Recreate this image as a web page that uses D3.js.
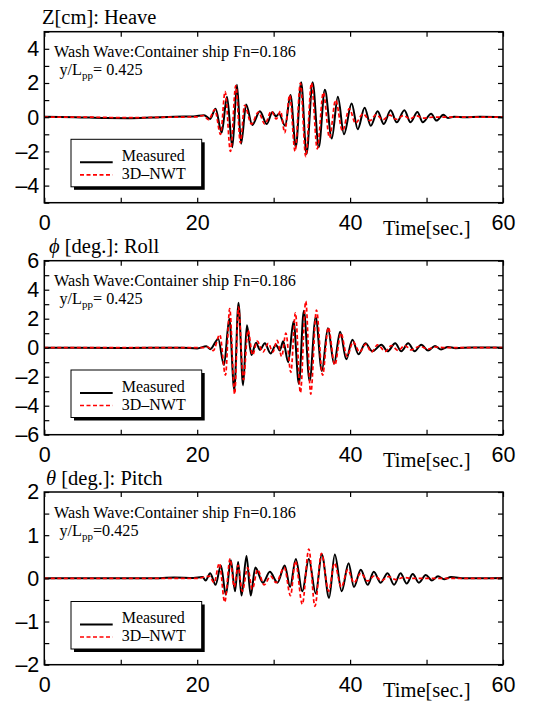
<!DOCTYPE html>
<html>
<head>
<meta charset="utf-8">
<script src="https://cdn.jsdelivr.net/npm/d3@7"></script>
<style>
  body { margin: 0; background: #fff; }
  svg { display: block; }
</style>
</head>
<body>
<script>
// ---- time axis ----
const timeTicks = [0, 10, 20, 30, 40, 50, 60];
const timeLabels = [0, 20, 40, 60];

// ---- heave Z [cm]: [time s, value] at turning points ----
const heaveMeasured = [
  [0,0.02],[4,0.0],[8,-0.05],[11,-0.06],[14,-0.02],[17,0.03],[19.5,0.04],
  [20.9,0.12],[21.7,-0.1],[22.4,0.5],[23.2,-0.9],[23.9,1.2],[24.6,-1.75],
  [25.2,1.9],[25.75,-1.55],[26.4,0.75],[27.2,-0.45],[28.2,0.35],[29.1,-0.4],
  [29.85,0.3],[30.3,0.05],[30.7,0.2],[31.5,-0.5],[32.2,1.3],[32.9,-1.75],
  [33.6,2.05],[34.3,-2.15],[35.1,2.05],[35.9,-1.75],[36.7,1.6],[37.6,-1.25],
  [38.4,1.2],[39.2,-1.0],[40.2,0.8],[41.0,-0.7],[41.9,0.55],[42.7,-0.5],
  [43.6,0.35],[44.4,-0.4],[45.3,0.4],[46.1,-0.3],[47.1,0.4],[47.9,-0.3],
  [48.8,0.3],[49.5,-0.3],[50.6,0.2],[51.3,-0.2],[52.2,0.15],[52.8,-0.05],
  [53.6,0.03],[55,0.0],[57,0.02],[60,0.0]
];
const heaveNWT = [
  [0,0],[6,0.0],[11,-0.03],[16,0.0],[20,0.02],[20.8,0.1],[21.5,-0.15],
  [22.3,0.45],[23.05,-1.0],[23.65,1.5],[24.35,-2.0],[25.05,1.85],[25.65,-1.5],
  [26.2,0.7],[27.1,-0.4],[28.0,0.3],[28.85,-0.4],[29.7,0.35],[30.35,-0.1],
  [30.9,0.35],[31.45,-0.9],[32.1,1.3],[32.8,-2.0],[33.5,2.0],[34.2,-2.3],
  [34.95,2.0],[35.7,-1.85],[36.5,1.45],[37.3,-1.2],[38.1,1.0],[39.0,-0.8],
  [39.9,0.5],[40.7,-0.35],[41.7,0.2],[42.6,-0.2],[43.4,0.15],[44.3,-0.15],
  [45.2,0.12],[46.0,-0.12],[47.0,0.1],[47.8,-0.1],[48.7,0.08],[49.5,-0.05],
  [51,0.0],[60,0.0]
];

// ---- roll phi [deg.] ----
const rollMeasured = [
  [0,0],[10,-0.02],[18,0],[20,-0.05],[21.2,0.1],[21.7,-0.1],[22.75,0.6],
  [23.5,-1.2],[24.2,2.0],[24.85,-2.9],[25.4,3.1],[26.0,-2.6],[26.5,1.55],
  [27.1,-0.5],[27.7,0.35],[28.2,-0.15],[28.85,0.3],[29.6,-0.4],[30.3,0.2],
  [30.8,-0.2],[31.25,0.45],[31.9,-1.0],[32.6,1.8],[33.3,-2.5],[33.95,2.55],
  [34.7,-2.3],[35.5,2.1],[36.3,-1.6],[37.1,1.35],[37.9,-1.1],[38.7,1.1],
  [39.5,-0.8],[40.3,0.55],[41.1,-0.45],[42.0,0.3],[42.9,-0.25],[44.1,0.2],
  [44.9,-0.25],[45.9,0.3],[46.7,-0.25],[47.6,0.3],[48.45,-0.25],[49.3,0.2],
  [50.2,-0.2],[51.1,0.12],[51.9,-0.12],[52.8,0.05],[53.8,-0.03],[56,0.02],[60,0]
];
const rollNWT = [
  [0,0],[21,0],[21.35,0.05],[22.1,-0.2],[22.95,0.9],[23.7,-1.9],[24.25,2.7],
  [24.9,-3.2],[25.4,2.8],[26.05,-2.2],[26.65,1.2],[27.25,-0.5],[27.85,0.45],
  [28.6,-0.3],[29.3,0.3],[29.9,-0.3],[30.45,0.5],[31.05,-0.6],[31.6,1.0],
  [32.25,-1.7],[32.85,2.4],[33.5,-3.1],[34.2,3.2],[34.85,-3.2],[35.6,2.6],
  [36.4,-1.9],[37.15,1.4],[38.0,-1.2],[38.8,1.0],[39.6,-0.6],[40.4,0.4],
  [41.25,-0.3],[42.05,0.25],[42.8,-0.3],[43.6,0.2],[44.6,-0.25],[45.4,0.15],
  [46.3,-0.2],[47.15,0.15],[48.0,-0.15],[49.1,0.1],[50.2,-0.1],[51.1,0.05],
  [52.5,0],[60,0]
];

// ---- pitch theta [deg.] ----
const pitchMeasured = [
  [0,0],[8,0.0],[14,0.0],[17,0.02],[19.5,0.01],[20.7,0.03],[21.1,-0.05],
  [21.7,0.12],[22.4,-0.15],[23.1,0.3],[23.75,-0.38],[24.4,0.42],[24.95,-0.3],
  [25.35,0.38],[25.8,-0.4],[26.45,0.52],[27.0,-0.4],[27.6,0.25],[28.6,-0.1],
  [29.5,0.15],[30.5,-0.1],[31.45,0.3],[32.15,-0.2],[32.9,0.45],[33.75,-0.3],
  [34.6,0.45],[35.5,-0.35],[36.3,0.55],[37.25,-0.45],[38.0,0.55],[38.9,-0.3],
  [39.8,0.35],[40.5,-0.2],[41.4,0.2],[42.3,-0.15],[43.1,0.15],[44.0,-0.1],
  [44.9,0.12],[45.75,-0.15],[46.6,0.12],[47.4,-0.12],[48.2,0.1],[49.0,-0.1],
  [49.9,0.08],[50.7,-0.05],[51.5,0.05],[52.3,-0.02],[53.2,0.03],[55,0.0],[60,0.01]
];
const pitchNWT = [
  [0,0],[20,0],[21.6,0.05],[22.2,-0.1],[22.9,0.35],[23.6,-0.55],[24.3,0.45],
  [24.85,-0.2],[25.35,0.3],[25.9,-0.3],[26.6,0.25],[27.2,-0.25],[27.9,0.2],
  [28.75,-0.15],[29.6,0.05],[30.3,-0.1],[31.4,0.25],[32.2,-0.4],[32.85,0.4],
  [33.75,-0.6],[34.6,0.68],[35.4,-0.65],[36.25,0.58],[37.2,-0.3],[37.95,0.35],
  [38.85,-0.2],[39.7,0.2],[40.5,-0.1],[41.4,0.12],[42.3,-0.06],[43.2,0.06],
  [44.1,-0.05],[45,0.04],[46,-0.03],[47,0.02],[48,0],[60,0]
];

// ---- per-panel axis values ----
const heaveTicks = d3.range(-5, 5.01, 1);
const heaveLabels = [-4, -2, 0, 2, 4];
const rollTicks = d3.range(-6, 6.01, 1);
const rollLabels = [-6, -4, -2, 0, 2, 4, 6];
const pitchTicks = d3.range(-2, 2.01, 0.5);
const pitchLabels = [-2, -1, 0, 1, 2];

const seriesNames = ["Measured", "3D\u2013NWT"];
const caseText = "Wash Wave:Container ship Fn=0.186";

const panels = [
  { symbol: null, title: "Z[cm]: Heave", measured: heaveMeasured, nwt: heaveNWT,
    domain: [-5, 5], ticks: heaveTicks, labels: heaveLabels, ratio: "= 0.425",
    top: 31.7, bottom: 202.7, titleX: 42, legendTop: 139.3 },
  { symbol: "\u03D5", title: " [deg.]: Roll", measured: rollMeasured, nwt: rollNWT,
    domain: [-6, 6], ticks: rollTicks, labels: rollLabels, ratio: "= 0.425",
    top: 260.7, bottom: 434.7, titleX: 49, legendTop: 370 },
  { symbol: "\u03B8", title: " [deg.]: Pitch", measured: pitchMeasured, nwt: pitchNWT,
    domain: [-2, 2], ticks: pitchTicks, labels: pitchLabels, ratio: "=0.425",
    top: 492, bottom: 664.7, titleX: 46, legendTop: 601.5 }
];

const W = 550, H = 702;
const left = 44.3, right = 503;
const serif = "'Liberation Serif', 'Times New Roman', serif";
const sans = "'Liberation Sans', Arial, sans-serif";

const svg = d3.select("body").append("svg")
  .attr("width", W).attr("height", H)
  .attr("viewBox", `0 0 ${W} ${H}`);

const x = d3.scaleLinear().domain([0, 60]).range([left, right]);
const minusFmt = d => (d < 0 ? "\u2013" + (-d) : String(d));

panels.forEach((p, i) => {
  const y = d3.scaleLinear().domain(p.domain).range([p.bottom, p.top]);
  const g = svg.append("g");

  // clip for the traces
  const clipId = "clip" + i;
  svg.append("clipPath").attr("id", clipId)
    .append("rect").attr("x", left).attr("y", p.top)
    .attr("width", right - left).attr("height", p.bottom - p.top);

  // traces
  const line = d3.line()
    .x(d => x(d[0])).y(d => y(d[1]))
    .curve(d3.curveMonotoneX);
  const traces = g.append("g").attr("clip-path", `url(#${clipId})`);
  traces.append("path").datum(p.measured)
    .attr("d", line).attr("fill", "none")
    .attr("stroke", "#000").attr("stroke-width", 2)
    .attr("stroke-linejoin", "round");
  traces.append("path").datum(p.nwt)
    .attr("d", line).attr("fill", "none")
    .attr("stroke", "#ff0000").attr("stroke-width", 1.7)
    .attr("stroke-dasharray", "4,2.5");

  // axes with inward ticks on all four sides
  const styleAxis = sel => {
    sel.select(".domain").remove();
    sel.selectAll(".tick line").attr("stroke", "#000").attr("stroke-width", 1.2);
    sel.selectAll(".tick text").attr("fill", "#000");
    sel.attr("font-family", sans).attr("font-size", 21.5);
  };
  g.append("g").attr("transform", `translate(0,${p.bottom})`)
    .call(d3.axisBottom(x).tickValues(timeTicks).tickSize(-5).tickPadding(12)
      .tickFormat(d => timeLabels.includes(d) ? String(d) : ""))
    .call(styleAxis);
  g.append("g").attr("transform", `translate(0,${p.top})`)
    .call(d3.axisTop(x).tickValues(timeTicks).tickSize(-5).tickFormat(""))
    .call(styleAxis);
  g.append("g").attr("transform", `translate(${left},0)`)
    .call(d3.axisLeft(y).tickValues(p.ticks).tickSize(-5).tickPadding(5)
      .tickFormat(d => p.labels.some(v => Math.abs(v - d) < 1e-9) ? minusFmt(d) : ""))
    .call(styleAxis);
  g.append("g").attr("transform", `translate(${right},0)`)
    .call(d3.axisRight(y).tickValues(p.ticks).tickSize(-5).tickFormat(""))
    .call(styleAxis);

  // frame
  g.append("rect").attr("x", left).attr("y", p.top)
    .attr("width", right - left).attr("height", p.bottom - p.top)
    .attr("fill", "none").attr("stroke", "#000").attr("stroke-width", 1.5);

  // title
  const t = g.append("text").attr("x", p.titleX).attr("y", p.top - 7.5)
    .attr("font-family", serif).attr("font-size", 20.5).attr("fill", "#000");
  if (p.symbol) t.append("tspan").attr("font-style", "italic").text(p.symbol);
  t.append("tspan").text(p.title);

  // x-axis caption
  g.append("text").attr("x", 383).attr("y", p.bottom + 32.5)
    .attr("font-family", serif).attr("font-size", 20.5).attr("fill", "#000")
    .text("Time[sec.]");

  // case annotation
  g.append("text").attr("x", 54).attr("y", p.top + 25.6)
    .attr("font-family", serif).attr("font-size", 16.2).attr("fill", "#000")
    .text(caseText);
  const r = g.append("text").attr("x", 59.5).attr("y", p.top + 43.5)
    .attr("font-family", serif).attr("font-size", 16.2).attr("fill", "#000");
  r.append("tspan").text("y/L");
  r.append("tspan").attr("font-size", 11).attr("dy", 4).text("pp");
  r.append("tspan").attr("dy", -4).text(p.ratio);

  // legend with drop shadow
  const lx = 71, ly = p.legendTop, lw = 130.7, lh = 47.5;
  const lg = g.append("g");
  lg.append("rect").attr("x", lx + 3).attr("y", ly + 3)
    .attr("width", lw).attr("height", lh).attr("fill", "#000");
  lg.append("rect").attr("x", lx).attr("y", ly)
    .attr("width", lw).attr("height", lh)
    .attr("fill", "#fff").attr("stroke", "#000").attr("stroke-width", 1);
  const rows = [
    { name: seriesNames[0], color: "#000", dash: null, w: 2, ly: 23, ty: 21.5 },
    { name: seriesNames[1], color: "#ff0000", dash: "4,2.5", w: 1.7, ly: 35.5, ty: 39.5 }
  ];
  rows.forEach(row => {
    lg.append("line").attr("x1", 80).attr("x2", 112.7)
      .attr("y1", ly + row.ly).attr("y2", ly + row.ly)
      .attr("stroke", row.color).attr("stroke-width", row.w)
      .attr("stroke-dasharray", row.dash);
    lg.append("text").attr("x", 121.7).attr("y", ly + row.ty)
      .attr("font-family", serif).attr("font-size", 16).attr("fill", "#000")
      .text(row.name);
  });
});
</script>
</body>
</html>
